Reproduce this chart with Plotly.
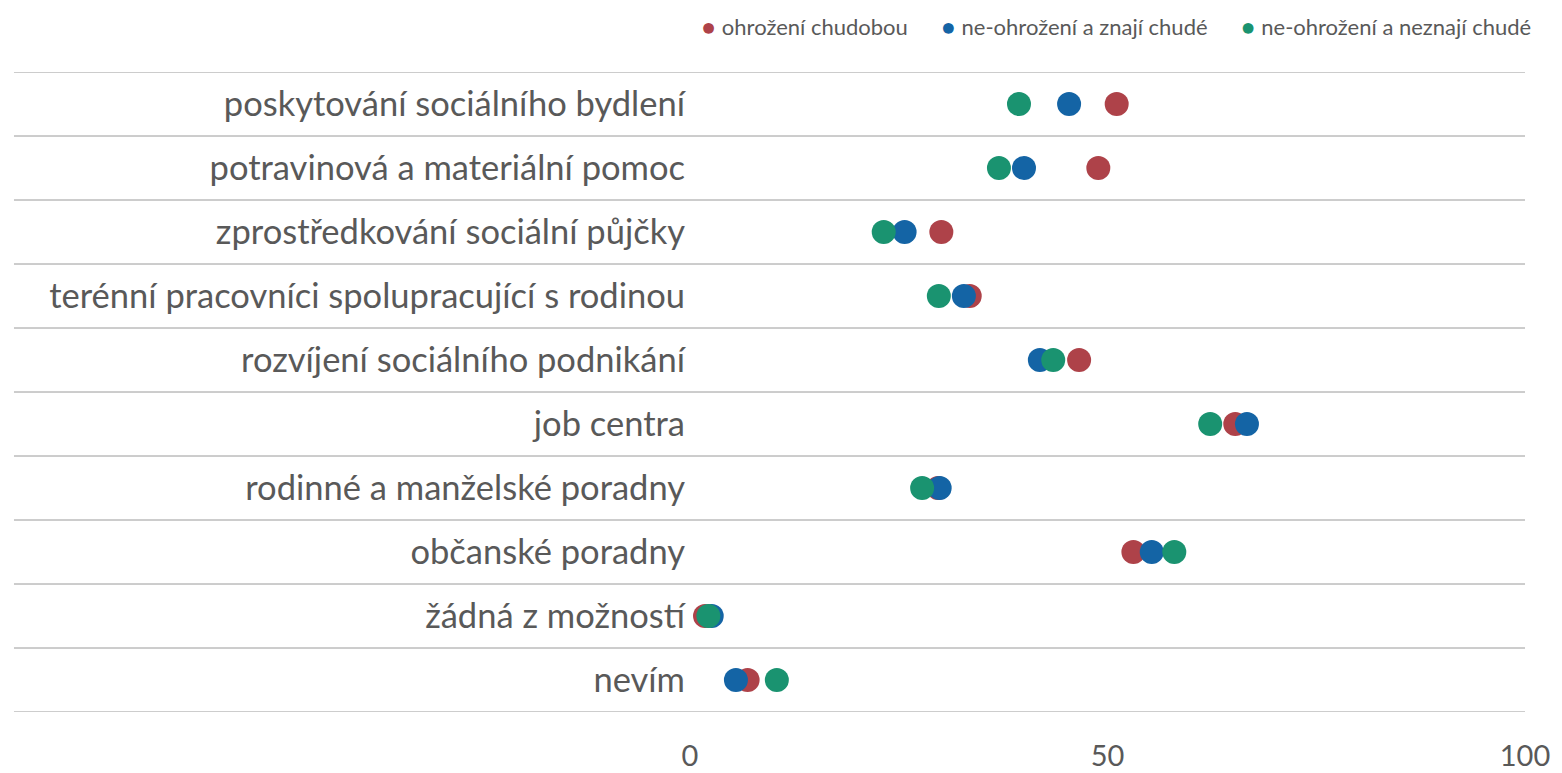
import plotly.graph_objects as go

categories = [
    "poskytování sociálního bydlení",
    "potravinová a materiální pomoc",
    "zprostředkování sociální půjčky",
    "terénní pracovníci spolupracující s rodinou",
    "rozvíjení sociálního podnikání",
    "job centra",
    "rodinné a manželské poradny",
    "občanské poradny",
    "žádná z možností",
    "nevím",
]

series_names = ["ohrožení chudobou", "ne-ohrožení a znají chudé", "ne-ohrožení a neznají chudé"]
ohrozeni = [51.1, 48.9, 30.1, 33.5, 46.6, 65.3, 29.7, 53.1, 1.8, 6.9]
znaji = [45.4, 40.0, 25.7, 32.8, 41.9, 66.7, 29.9, 55.3, 2.6, 5.5]
neznaji = [39.4, 37.0, 23.2, 29.8, 43.5, 62.3, 27.8, 58.0, 2.2, 10.4]
colors = ["#AE4249", "#1464A5", "#1A9370"]

x_ticks = [0, 50, 100]

fig = go.Figure()
for name, vals, col in zip(series_names, [ohrozeni, znaji, neznaji], colors):
    fig.add_trace(go.Scatter(
        x=vals, y=categories, mode="markers", name=name,
        marker=dict(color=col, size=24, line=dict(width=0)),
        cliponaxis=False, showlegend=False,
    ))

for i in range(len(categories) + 1):
    fig.add_shape(type="line", xref="paper", yref="y",
                  x0=-0.8096, x1=1, y0=i - 0.5, y1=i - 0.5,
                  line=dict(color="#9a9a9a", width=1), layer="below")

# legend built from series names and colours
legend_text = "&nbsp;" * 6
legend_text = legend_text.join(
    f'<span style="color:{c}">●</span><span style="font-size:26px"> </span>{n}'
    for n, c in zip(series_names, colors)
)
fig.add_annotation(text=legend_text, xref="paper", yref="paper",
                   x=1.01, y=1.0 + 47 / 640, xanchor="right", yanchor="middle",
                   showarrow=False, font=dict(size=22, color="#595959", family="Lato, sans-serif"))

font_fam = "Lato, sans-serif"
fig.update_layout(
    width=1554, height=765,
    margin=dict(l=682, r=37, t=64, b=61, autoexpand=False),
    paper_bgcolor="white", plot_bgcolor="white",
    font=dict(family=font_fam, color="#595959"),
    showlegend=False,
    xaxis=dict(range=[0, 100], tickvals=x_ticks, ticktext=[str(v) for v in x_ticks],
               showgrid=False, zeroline=False, showline=False, ticks="",
               tickfont=dict(size=29, color="#595959"), ticklabelstandoff=24),
    yaxis=dict(categoryorder="array", categoryarray=categories,
               range=[9.5, -0.5], autorange=False, showgrid=False, zeroline=False,
               showline=False, ticks="",
               tickfont=dict(size=34.5, color="#595959"), ticklabelstandoff=4),
)

fig.write_html("out.html")
